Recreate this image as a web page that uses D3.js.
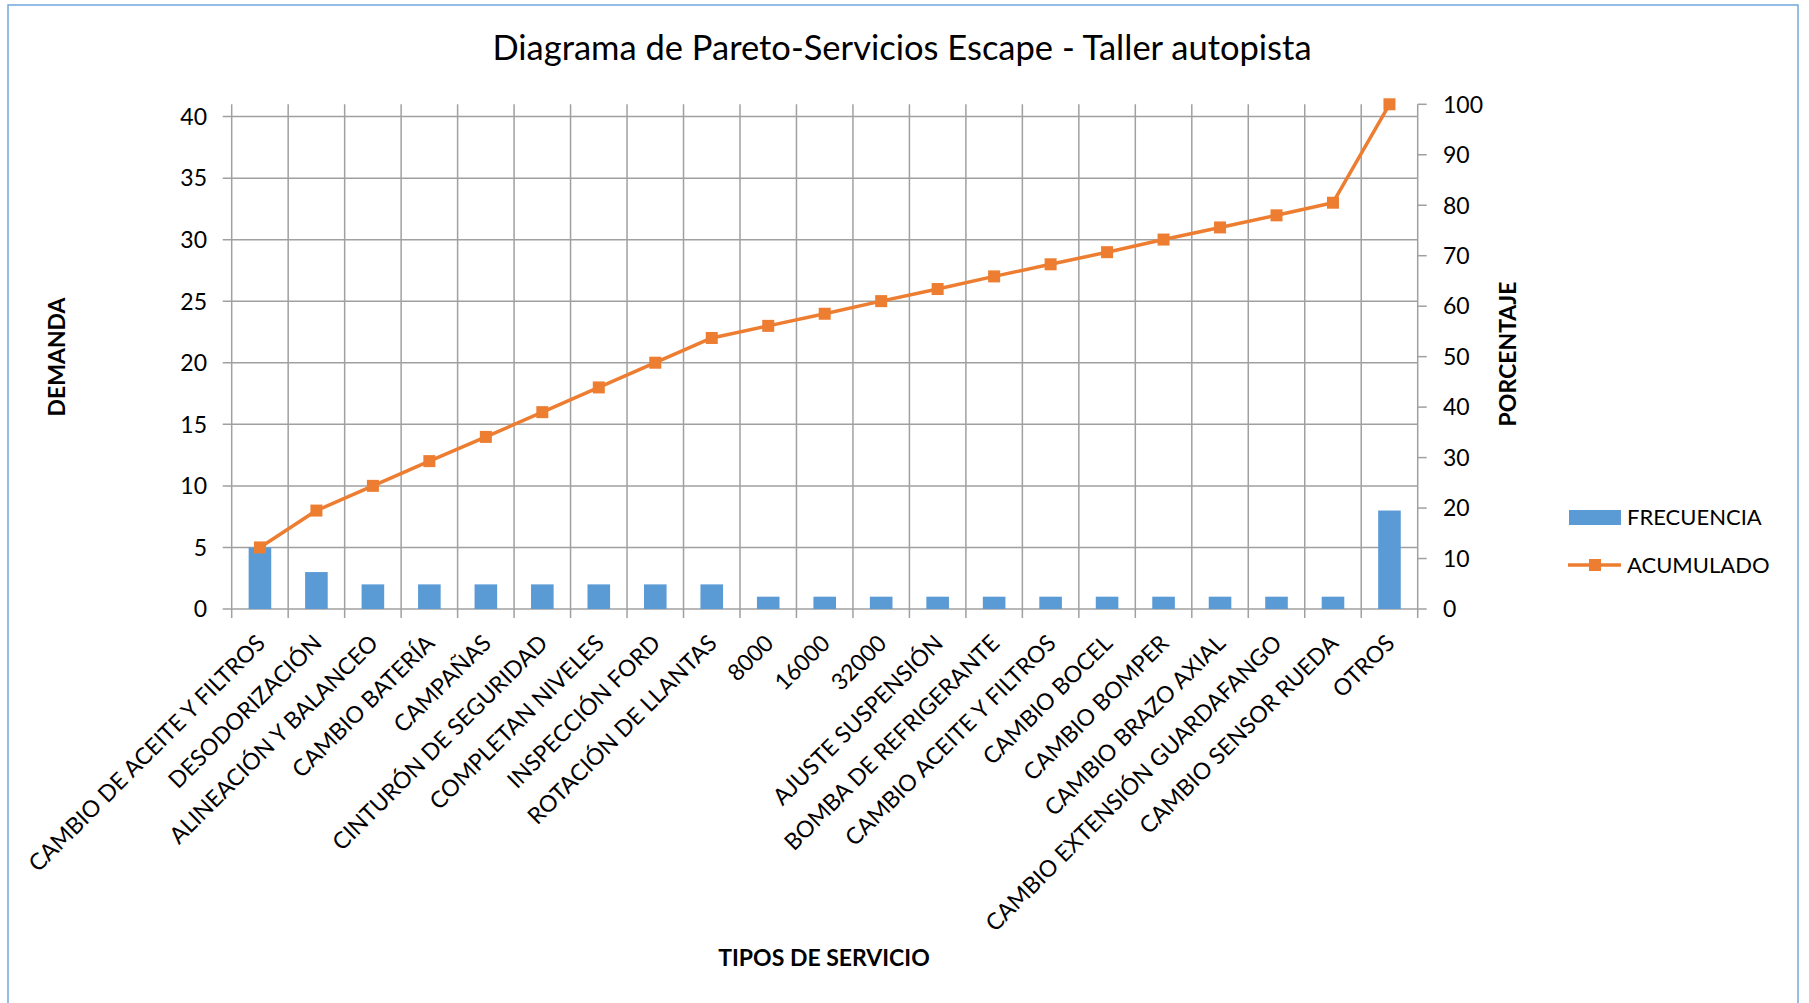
<!DOCTYPE html>
<html>
<head>
<meta charset="utf-8">
<script src="https://cdn.jsdelivr.net/npm/d3@7"></script>
<style>
  body { margin: 0; background: #fff; }
  text { font-family: Lato, 'Open Sans', sans-serif; fill: #000; }
</style>
</head>
<body>
<svg id="chart"></svg>
<script>
// categories (tipos de servicio), in Pareto order
let categories = [
  'CAMBIO DE ACEITE Y FILTROS', 'DESODORIZACIÓN', 'ALINEACIÓN Y BALANCEO', 'CAMBIO BATERÍA',
  'CAMPAÑAS', 'CINTURÓN DE SEGURIDAD', 'COMPLETAN NIVELES', 'INSPECCIÓN FORD',
  'ROTACIÓN DE LLANTAS', '8000', '16000', '32000', 'AJUSTE SUSPENSIÓN',
  'BOMBA DE REFRIGERANTE', 'CAMBIO ACEITE Y FILTROS', 'CAMBIO BOCEL', 'CAMBIO BOMPER',
  'CAMBIO BRAZO AXIAL', 'CAMBIO EXTENSIÓN GUARDAFANGO', 'CAMBIO SENSOR RUEDA', 'OTROS'
];
let frecuencia = [5, 3, 2, 2, 2, 2, 2, 2, 2, 1, 1, 1, 1, 1, 1, 1, 1, 1, 1, 1, 8];
let acumulado = [12.2, 19.5, 24.4, 29.3, 34.1, 39.0, 43.9, 48.8, 53.7, 56.1, 58.5,
  61.0, 63.4, 65.9, 68.3, 70.7, 73.2, 75.6, 78.0, 80.5, 100];
let leftTicks = [0, 5, 10, 15, 20, 25, 30, 35, 40];
let rightTicks = [0, 10, 20, 30, 40, 50, 60, 70, 80, 90, 100];

let width = 1809, height = 1003;
let plot = { left: 231.7, right: 1417.7, top: 104.3, bottom: 609 };
let gridColor = '#a0a0a0';
let blue = '#5b9bd5', orange = '#ed7d31';

let svg = d3.select('#chart')
  .attr('width', width)
  .attr('height', height);

// chart area border
svg.append('rect')
  .attr('x', 8).attr('y', 5)
  .attr('width', 1790).attr('height', 1010)
  .attr('fill', '#fff')
  .attr('stroke', '#6fa8dc')
  .attr('stroke-width', 1.5);

let x = d3.scaleBand()
  .domain(categories)
  .range([plot.left, plot.right])
  .paddingInner(0).paddingOuter(0);

let yLeft = d3.scaleLinear().domain([0, 41]).range([plot.bottom, plot.top]);
let yRight = d3.scaleLinear().domain([0, 100]).range([plot.bottom, plot.top]);

// horizontal gridlines
svg.append('g')
  .selectAll('line')
  .data(leftTicks)
  .join('line')
  .attr('x1', plot.left - 9).attr('x2', plot.right)
  .attr('y1', d => yLeft(d)).attr('y2', d => yLeft(d))
  .attr('stroke', gridColor).attr('stroke-width', 1.5);

// vertical gridlines (category boundaries) with ticks below the axis
let bounds = categories.map(c => x(c)).concat([plot.right]);
svg.append('g')
  .selectAll('line')
  .data(bounds)
  .join('line')
  .attr('x1', d => d).attr('x2', d => d)
  .attr('y1', plot.top).attr('y2', plot.bottom + 9)
  .attr('stroke', gridColor).attr('stroke-width', 1.5);

// right axis ticks
svg.append('g')
  .selectAll('line')
  .data(rightTicks)
  .join('line')
  .attr('x1', plot.right).attr('x2', plot.right + 9)
  .attr('y1', d => yRight(d)).attr('y2', d => yRight(d))
  .attr('stroke', gridColor).attr('stroke-width', 1.5);

// left axis labels
svg.append('g')
  .selectAll('text')
  .data(leftTicks)
  .join('text')
  .attr('x', 207)
  .attr('y', d => yLeft(d))
  .attr('dy', '0.36em')
  .attr('text-anchor', 'end')
  .style('font-size', '23px')
  .text(d => d);

// right axis labels
svg.append('g')
  .selectAll('text')
  .data(rightTicks)
  .join('text')
  .attr('x', 1443)
  .attr('y', d => yRight(d))
  .attr('dy', '0.36em')
  .attr('text-anchor', 'start')
  .style('font-size', '23px')
  .text(d => d);

// bars
let barW = x.bandwidth() / 2.5;
svg.append('g')
  .selectAll('rect')
  .data(frecuencia)
  .join('rect')
  .attr('x', (d, i) => x(categories[i]) + (x.bandwidth() - barW) / 2)
  .attr('y', d => yLeft(d))
  .attr('width', barW)
  .attr('height', d => yLeft(0) - yLeft(d))
  .attr('fill', blue);

// cumulative line
let cx = (d, i) => x(categories[i]) + x.bandwidth() / 2;
svg.append('path')
  .datum(acumulado)
  .attr('fill', 'none')
  .attr('stroke', orange)
  .attr('stroke-width', 3.5)
  .attr('stroke-linejoin', 'round')
  .attr('d', d3.line().x(cx).y(d => yRight(d)));

svg.append('g')
  .selectAll('rect')
  .data(acumulado)
  .join('rect')
  .attr('x', (d, i) => cx(d, i) - 6)
  .attr('y', d => yRight(d) - 6)
  .attr('width', 12).attr('height', 12)
  .attr('fill', orange);

// category labels, rotated
svg.append('g')
  .selectAll('text')
  .data(categories)
  .join('text')
  .attr('transform', d => 'translate(' + (x(d) + x.bandwidth() / 2 + 1) + ',639) rotate(-45)')
  .attr('dy', '0.35em')
  .attr('text-anchor', 'end')
  .style('font-size', '23px')
  .text(d => d);

// title
svg.append('text')
  .attr('x', 902).attr('y', 60)
  .attr('text-anchor', 'middle')
  .style('font-size', '34.5px')
  .text('Diagrama de Pareto-Servicios Escape - Taller autopista');

// axis titles
svg.append('text')
  .attr('transform', 'translate(65,357) rotate(-90)')
  .attr('text-anchor', 'middle')
  .style('font-size', '23px').style('font-weight', 'bold')
  .text('DEMANDA');

svg.append('text')
  .attr('transform', 'translate(1516,354) rotate(-90)')
  .attr('text-anchor', 'middle')
  .style('font-size', '23px').style('font-weight', 'bold')
  .text('PORCENTAJE');

svg.append('text')
  .attr('x', 824).attr('y', 966)
  .attr('text-anchor', 'middle')
  .style('font-size', '23px').style('font-weight', 'bold')
  .text('TIPOS DE SERVICIO');

// legend
let legend = svg.append('g');
legend.append('rect')
  .attr('x', 1569).attr('y', 510)
  .attr('width', 52).attr('height', 15)
  .attr('fill', blue);
legend.append('text')
  .attr('x', 1627).attr('y', 517).attr('dy', '0.36em')
  .style('font-size', '22px')
  .text('FRECUENCIA');
legend.append('line')
  .attr('x1', 1568).attr('x2', 1621)
  .attr('y1', 565).attr('y2', 565)
  .attr('stroke', orange).attr('stroke-width', 3.5);
legend.append('rect')
  .attr('x', 1589).attr('y', 559)
  .attr('width', 12).attr('height', 12)
  .attr('fill', orange);
legend.append('text')
  .attr('x', 1627).attr('y', 565).attr('dy', '0.36em')
  .style('font-size', '22px')
  .text('ACUMULADO');
</script>
</body>
</html>
